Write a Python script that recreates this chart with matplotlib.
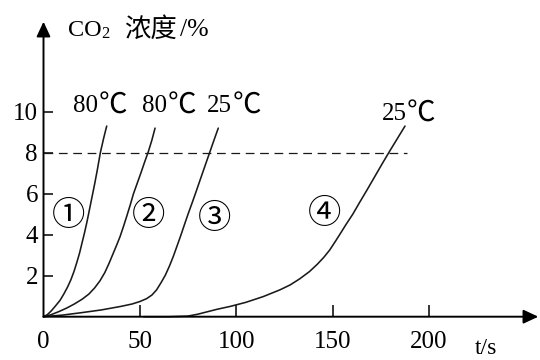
import matplotlib
matplotlib.use("Agg")
import matplotlib.pyplot as plt

# Reaction curves: time (s) vs CO2 concentration (%)
t1 = [0, 2, 4, 6, 8.6, 10.5, 12.5, 14.2, 15.8, 17.3, 18.7, 20, 21.3, 22.5,
      23.8, 25.2, 26.6, 28, 29.5, 31.2, 32.8]
c1 = [0, 0.1, 0.28, 0.5, 0.8, 1.1, 1.45, 1.8, 2.2, 2.65, 3.1, 3.6, 4.1, 4.6,
      5.2, 5.85, 6.5, 7.2, 8.0, 8.7, 9.3]

t2 = [0, 4, 8, 12, 16, 20, 23.5, 26.5, 29.3, 31.8, 34, 36, 38, 39.7, 41.5,
      43.2, 45, 46.7, 48.6, 50.5, 52.5, 54.4, 56.2, 57.9]
c2 = [0, 0.1, 0.25, 0.42, 0.62, 0.85, 1.1, 1.4, 1.75, 2.15, 2.6, 3.05, 3.5, 3.9,
      4.4, 4.9, 5.45, 6.0, 6.5, 7.0, 7.55, 8.05, 8.6, 9.2]

t3 = [0, 10, 20, 30, 40, 46, 50, 53.5, 56.3, 58.7, 61, 63.2, 65.4, 67.4, 69.3,
      71.2, 73.1, 75, 77, 79, 81.2, 83.6, 86.2, 88.5, 90.7]
c3 = [0, 0.08, 0.2, 0.33, 0.5, 0.62, 0.74, 0.88, 1.06, 1.31, 1.66, 2.02, 2.48,
      2.95, 3.45, 3.95, 4.48, 5.0, 5.52, 6.05, 6.65, 7.3, 8.0, 8.62, 9.2]

t4 = [52, 65, 75, 80, 85, 90, 96.8, 105, 114, 122.7, 128, 133, 138, 142, 145.5,
      148.5, 151.3, 154, 157, 160.5, 164.2, 168, 172, 176, 179.8, 183.7, 187.6]
c4 = [0, 0, 0.03, 0.12, 0.24, 0.36, 0.5, 0.7, 0.98, 1.31, 1.55, 1.85, 2.2, 2.55,
      2.9, 3.25, 3.65, 4.05, 4.5, 5.0, 5.6, 6.2, 6.85, 7.5, 8.1, 8.7, 9.3]

curve_names = ["①", "②", "③", "④"]
curve_temps = ["80", "80", "25", "25"]
temp_unit = "℃"

x_ticks = [0, 50, 100, 150, 200]
y_ticks = [2, 4, 6, 8, 10]
threshold = 8
threshold_end = 188.5

W, H = 540, 360
fig = plt.figure(figsize=(W / 100, H / 100), dpi=100)

# axes box in pixel terms
x0, x1 = 43.5, 538.3
y0, y1 = 316.7, 21.7
ax = fig.add_axes([x0 / W, 1 - y0 / H, (x1 - x0) / W, (y0 - y1) / H])
ax.set_xlim(0, (x1 - x0) / 1.927)
ax.set_ylim(0, (y0 - y1) / 20.5)
ax.patch.set_alpha(0)
for s in ax.spines.values():
    s.set_visible(False)

serif = ["Liberation Serif", "DejaVu Serif"]
cjk = ["Noto Sans CJK SC", "DejaVu Sans"]
ink = "#1a1a1a"

# axes with arrow heads
arrow = dict(arrowstyle="-|>,head_length=0.9,head_width=0.42", lw=1.4,
             color="black", shrinkA=0, shrinkB=0, mutation_scale=10)
ax.annotate("", xy=(1, 0), xytext=(0, 0), xycoords="axes fraction",
            textcoords="axes fraction", arrowprops=arrow, annotation_clip=False)
ax.annotate("", xy=(0, 1), xytext=(0, 0), xycoords="axes fraction",
            textcoords="axes fraction", arrowprops=arrow, annotation_clip=False)

ax.set_xticks(x_ticks)
ax.set_xticklabels([str(v) for v in x_ticks], family=serif, fontsize=18)
ax.set_yticks(y_ticks)
ax.set_yticklabels([str(v) for v in y_ticks], family=serif, fontsize=18)
ax.tick_params(axis="x", direction="in", length=8.6, width=1.1, pad=10, colors="black")
ax.tick_params(axis="y", direction="in", length=6.5, width=1.1, pad=4, colors="black")
ax.xaxis.get_major_ticks()[0].tick1line.set_visible(False)

# threshold line
ax.plot([0, threshold_end], [threshold, threshold], color=ink, lw=0.9,
        linestyle=(0, (7, 4.5)), clip_on=False)

for t, c in [(t1, c1), (t2, c2), (t3, c3), (t4, c4)]:
    ax.plot(t, c, color=ink, lw=1.15, solid_joinstyle="round",
            solid_capstyle="round", clip_on=False)

# curve numbers
name_pos = [(12.9, 4.96), (54.4, 4.96), (89.0, 4.8), (146.1, 5.04)]
for name, (x, y) in zip(curve_names, name_pos):
    ax.text(x, y, name, ha="center", va="center", fontsize=24,
            family=cjk, color="black")

# temperature labels: digits followed by the degree-Celsius sign
temp_pos = [(15.5, 10.0), (51.0, 10.0), (84.7, 10.0), (175.5, 9.6)]
for lab, (x, y) in zip(curve_temps, temp_pos):
    ax.text(x, y, lab, ha="left", va="baseline", fontsize=18,
            family=serif, color="black")
    ax.annotate(temp_unit, xy=(x, y), xytext=(18.3, -1.2), textcoords="offset points",
                ha="left", va="baseline", fontsize=20.5, family=cjk, color="black")

# axis titles
fig.text(68.3 / W, 1 - 36 / H, "CO", fontsize=17.5, family=serif, va="baseline")
fig.text(101 / W, 1 - 38.5 / H, "2", fontsize=12, family=serif, va="baseline")
fig.text(124 / W, 1 - 37 / H, "浓度", fontsize=19, family=cjk, va="baseline")
fig.text(180 / W, 1 - 36 / H, "/%", fontsize=18.5, family=serif, va="baseline")
fig.text(475 / W, 1 - 359.5 / H, "t/s", fontsize=17, family=serif, va="bottom")

fig.savefig("out.png", dpi=100)
